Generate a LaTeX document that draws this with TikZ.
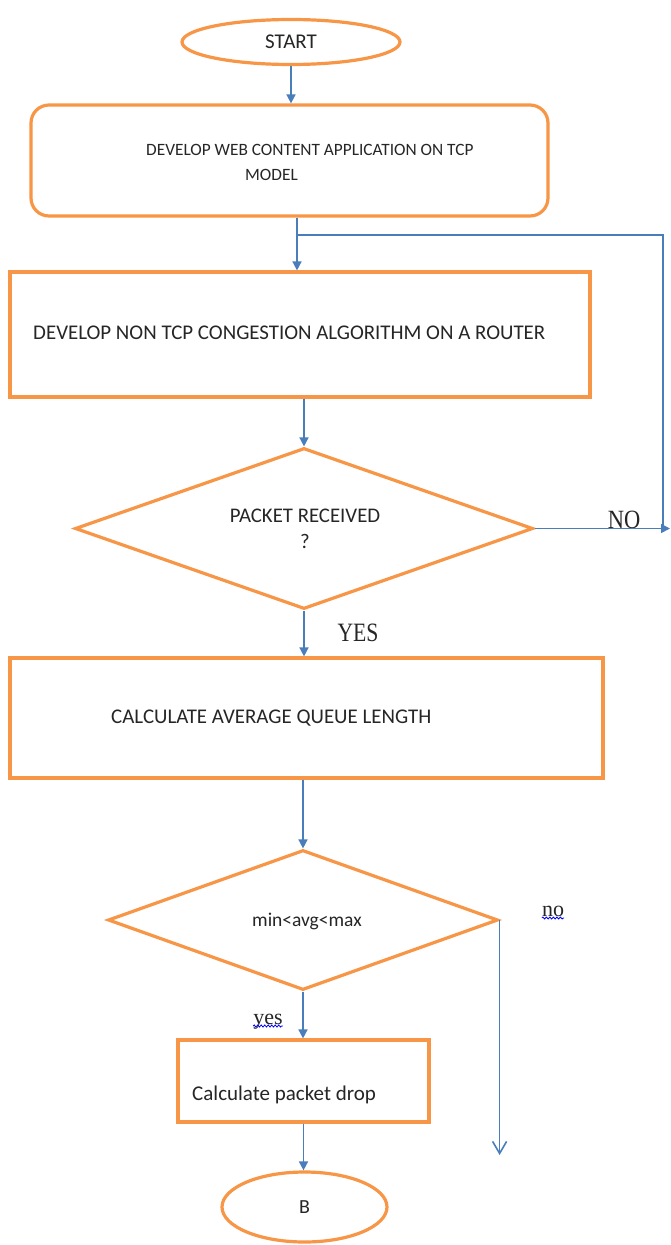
\documentclass[tikz,border=0pt]{standalone}
\usepackage{fontspec}
\setmainfont{Carlito}
\newfontfamily\seriffont{Liberation Serif}
\usetikzlibrary{shapes.geometric,arrows.meta,decorations.pathmorphing}
\definecolor{orng}{HTML}{F79646}
\definecolor{blu}{HTML}{4A7EBB}
\newcommand{\fs}[1]{\fontsize{#1}{#1}\selectfont}
\begin{document}
\begin{tikzpicture}[x=1pt,y=-1pt,
  obox/.style={draw=orng, line width=3.2pt, fill=white, inner sep=0pt},
  lbl/.style={text=black!85, inner sep=0pt},
  slbl/.style={font=\seriffont, text=black!85, inner sep=0pt},
  bline/.style={draw=blu, line width=1.6pt},
  conn/.style={bline, -{Triangle[length=9pt,width=9pt]}},
  wavy/.style={draw=blue, line width=0.8pt, decorate, decoration={snake, amplitude=1pt, segment length=3.5pt}}
]
\useasboundingbox (0,0) rectangle (671,1245);
% nodes
\node[obox, ellipse, minimum width=218pt, minimum height=45pt, lbl, font=\fs{21}] (start) at (291,42) {START};
\node[obox, rounded corners=18pt, minimum width=517pt, minimum height=111pt] (dev) at (289.5,160.5) {};
\node[lbl, anchor=west, font=\fs{17.3}] (devt1) at (146,150) {DEVELOP WEB CONTENT APPLICATION ON TCP};
\node[lbl, anchor=west, font=\fs{17.3}] (devt2) at (245,175) {MODEL};
\node[obox, minimum width=580pt, minimum height=125pt] (alg) at (300,334.5) {};
\node[lbl, anchor=west, font=\fs{20.9}] (algt) at (33,333) {DEVELOP NON TCP CONGESTION ALGORITHM ON A ROUTER};
\node[obox, diamond, minimum width=458pt, minimum height=161pt] (pr) at (304,528.5) {};
\node[lbl, font=\fs{20.8}] (prt1) at (305,516) {PACKET RECEIVED};
\node[lbl, font=\fs{20.8}] (prt2) at (305,541) {?};
\node[obox, minimum width=593pt, minimum height=120pt] (avg) at (306.5,718) {};
\node[lbl, anchor=west, font=\fs{20.9}] (avgt) at (111,718) {CALCULATE AVERAGE QUEUE LENGTH};
\node[obox, diamond, minimum width=390pt, minimum height=140pt] (cmp) at (303,920) {};
\node[lbl, font=\fs{19.5}] (cmpt) at (307,921) {min<avg<max};
\node[obox, minimum width=251pt, minimum height=82pt] (drop) at (303.5,1081) {};
\node[lbl, anchor=west, font=\fs{21}] (dropt) at (192,1095) {Calculate packet drop};
\node[obox, ellipse, minimum width=165pt, minimum height=70pt, lbl, font=\fs{20}] (B) at (304.5,1207) {B};
% coordinates
\coordinate (j1) at (297,235);
\coordinate (j2) at (663,235);
\coordinate (j3) at (663,529);
\coordinate (noend) at (670,529);
\coordinate (noend2) at (495,1155);
% labels
\node[slbl, anchor=base, font=\seriffont\fs{22.5}] (no1) at (624,528) {\scalebox{1}[1.17]{NO}};
\node[slbl, anchor=base, font=\seriffont\fs{21.7}] (yes1) at (358,641) {\scalebox{1}[1.22]{YES}};
\node[slbl, anchor=base, font=\seriffont\fs{22}] (no2) at (553,916) {no};
\node[slbl, anchor=base, font=\seriffont\fs{22}] (yes2) at (268,1024) {yes};
\draw[wavy] ([yshift=-2pt]no2.base west) -- ([yshift=-2pt]no2.base east);
\draw[wavy] ([yshift=-2pt]yes2.base west) -- ([yshift=-2pt]yes2.base east);
% connectors
\draw[conn] (start) -- (start |- dev.north);
\draw[conn] (dev.south -| j1) -- (alg.north -| j1);
\draw[bline] (j3) -- (j2) -- (j1);
\draw[conn] (alg.south -| pr.north) -- (pr.north);
\draw[conn] (pr.east) -- (pr.east -| noend);
\draw[conn] (pr.south) -- (pr.south |- avg.north);
\draw[conn] (avg.south -| cmp.north) -- (cmp.north);
\draw[conn] (cmp.south) -- (cmp.south |- drop.north);
\draw[conn] (drop.south) -- (drop.south |- B.north);
\draw[bline, -{Straight Barb[length=12pt,width=14pt]}] (cmp.east) -- (cmp.east |- noend2);
\end{tikzpicture}
\end{document}
